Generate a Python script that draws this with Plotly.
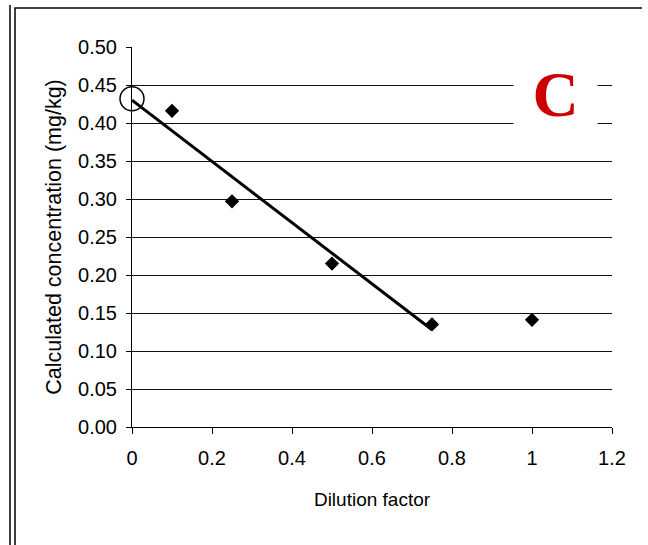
import plotly.graph_objects as go

# Data
dilution = [0.1, 0.25, 0.5, 0.75, 1.0]
concentration = [0.416, 0.297, 0.215, 0.135, 0.141]
trend_x = [0.0, 0.75]
trend_y = [0.430, 0.128]
extrap_x = [0.0]
extrap_y = [0.432]
x_ticks = [0, 0.2, 0.4, 0.6, 0.8, 1, 1.2]
y_ticks = [0.00, 0.05, 0.10, 0.15, 0.20, 0.25, 0.30, 0.35, 0.40, 0.45, 0.50]
panel_label = "C"

W, H = 648, 545
L, R, T, B = 132, 36, 47, 118
pw, ph = W - L - R, H - T - B

def px(x):
    return (x - L) / pw

def py(y):
    return (H - B - y) / ph

fig = go.Figure()
fig.add_trace(go.Scatter(x=trend_x, y=trend_y, mode="lines",
                         line=dict(color="black", width=3), showlegend=False,
                         cliponaxis=False))
fig.add_trace(go.Scatter(x=dilution, y=concentration, mode="markers",
                         marker=dict(symbol="diamond", size=11, color="black"),
                         showlegend=False, cliponaxis=False))
fig.add_trace(go.Scatter(x=extrap_x, y=extrap_y, mode="markers",
                         marker=dict(symbol="circle-open", size=24, color="black",
                                     line=dict(width=1.5, color="black")),
                         showlegend=False, cliponaxis=False))

font = "Liberation Sans, Arial, sans-serif"
frame_path = (f"M {px(10)},{py(H)} L {px(10)},{py(5)} "
              f"M {px(15)},{py(H)} L {px(15)},{py(8)} L {px(642)},{py(8)}")
fig.update_layout(
    width=W, height=H,
    margin=dict(l=L, r=R, t=T, b=B, pad=0),
    paper_bgcolor="white", plot_bgcolor="white",
    font=dict(family=font, color="black", size=19),
    xaxis=dict(range=[0, 1.2], tickvals=x_ticks, ticktext=[f"{v:g}" for v in x_ticks],
               showgrid=False, zeroline=False, showline=True, linecolor="black",
               linewidth=1, ticks="outside", ticklen=6, tickcolor="black",
               tickfont=dict(size=20), ticklabelstandoff=7,
               title=dict(text="Dilution factor", font=dict(size=19), standoff=24)),
    yaxis=dict(range=[0, 0.5], tickvals=y_ticks, ticktext=[f"{v:.2f}" for v in y_ticks],
               showgrid=True, gridcolor="#111111", gridwidth=1,
               zeroline=False, showline=True, linecolor="black", linewidth=1,
               ticks="outside", ticklen=5, tickcolor="black",
               tickfont=dict(size=20), ticklabelstandoff=5,
               title=dict(text="Calculated concentration (mg/kg)", font=dict(size=21.5),
                          standoff=10)),
    annotations=[dict(x=1.059, y=0.438, xref="x", yref="y", text="<b>" + panel_label + "</b>",
                      showarrow=False, width=81, height=100, bgcolor="white",
                      font=dict(family="Liberation Serif, Times New Roman, serif",
                                size=64, color="#CC0000"))],
    shapes=[
        dict(type="path", xref="paper", yref="paper", path=frame_path,
             line=dict(color="black", width=1.5)),
    ],
)

fig.write_html("out.html", config={"displayModeBar": False},
               post_script="document.body.style.margin='0';"
                           "document.body.style.overflow='hidden';"
                           "document.documentElement.style.overflow='hidden';")
